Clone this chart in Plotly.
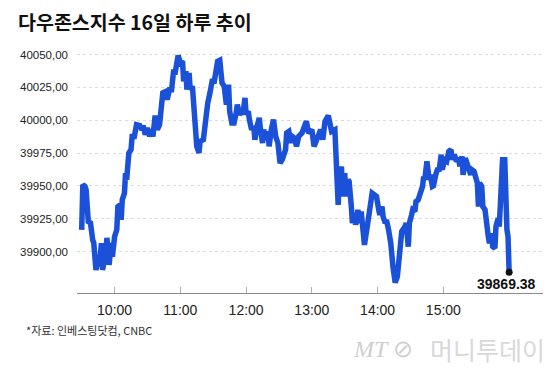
import plotly.graph_objects as go

# minutes after 09:30 (16 May session)
minutes = [0, 1, 3, 4, 6, 8, 10, 11, 13, 15, 16, 18, 19, 22, 23, 25, 27, 28, 30, 32,
           33, 35, 36, 37, 39, 40, 41, 43, 45, 46, 48, 50, 53, 55, 56, 58, 60, 62, 63, 65,
           67, 69, 71, 73, 74, 77, 78, 80, 82, 84, 85, 88, 90, 92, 93, 95, 96, 98, 99, 101,
           102, 104, 105, 107, 108, 111, 113, 115, 117, 119, 121, 123, 124, 126, 128, 130, 132, 134, 135, 137,
           139, 141, 142, 144, 146, 147, 149, 150, 152, 153, 155, 157, 158, 160, 162, 163, 165, 166, 168, 170,
           171, 173, 175, 177, 179, 181, 183, 186, 187, 189, 191, 192, 194, 196, 198, 201, 205, 207, 210, 212,
           215, 218, 220, 222, 225, 227, 228, 231, 232, 233, 234, 235, 237, 238, 240, 241, 243, 244, 246, 247,
           249, 250, 252, 254, 255, 256, 258, 261, 263, 265, 267, 269, 271, 272, 274, 275, 277, 278, 280, 282,
           284, 286, 288, 290, 291, 292, 295, 296, 298, 299, 301, 302, 304, 305, 307, 309, 311, 312, 313, 315,
           317, 318, 320, 321, 323, 325, 326, 328, 329, 331, 333, 335, 337, 338, 340, 342, 344, 345, 347, 348,
           350, 352, 353, 355, 356, 358, 359, 361, 362, 363, 365, 366, 368, 369, 371, 372, 374, 375, 377, 378,
           380, 381, 383, 384, 386, 387, 388, 389, 390]

dow = [39916.6, 39950.9, 39949.6, 39947.1, 39922.9, 39921.9, 39908.9, 39906.6, 39886.0, 39896.2,
       39888.6, 39906.4, 39886.0, 39899.0, 39910.5, 39889.9, 39906.6, 39896.2, 39911.4, 39916.6,
       39934.3, 39935.6, 39924.2, 39939.4, 39944.5, 39959.8, 39954.7, 39975.1, 39977.6, 39987.7,
       39987.7, 39996.6, 39995.9, 39992.8, 39995.9, 39989.0, 39994.1, 39987.7, 39992.8, 39987.7,
       40003.5, 39992.8, 39996.6, 40010.6, 40020.8, 40022.0, 40015.7, 40023.3, 40023.3, 40038.6,
       40034.8, 40049.3, 40043.7, 40044.9, 40029.7, 40037.3, 40023.3, 40036.1, 40023.3, 40025.9,
       40010.6, 39985.2, 39980.1, 39975.1, 39983.9, 39985.2, 40000.5, 40013.2, 40020.8, 40029.7,
       40029.7, 40037.3, 40044.9, 40045.7, 40028.5, 40025.9, 40011.9, 40027.2, 40006.8, 39997.9,
       39997.9, 40005.6, 40011.9, 40004.3, 40006.8, 40004.3, 40017.0, 40004.3, 40006.8, 40000.5,
       39992.8, 39995.4, 39985.2, 39995.4, 40001.8, 39994.1, 39982.7, 39992.8, 39985.2, 39991.5,
       39980.1, 39992.8, 40000.5, 39987.7, 39982.7, 39967.4, 39970.0, 39977.6, 39990.3, 39991.5,
       39982.7, 39987.7, 39986.5, 39980.1, 39987.7, 39990.3, 39999.2, 39990.3, 39992.8, 39980.1,
       39987.7, 39992.8, 39985.2, 39999.2, 40003.5, 39997.9, 39991.5, 39992.8, 39967.4, 39944.5,
       39935.6, 39954.7, 39964.8, 39942.0, 39959.8, 39942.0, 39954.7, 39953.4, 39934.3, 39921.7,
       39929.3, 39920.4, 39931.8, 39921.7, 39930.5, 39919.1, 39905.1, 39921.7, 39936.9, 39944.5,
       39943.3, 39942.0, 39931.8, 39928.0, 39934.3, 39926.7, 39921.7, 39924.2, 39916.6, 39906.4,
       39888.6, 39876.4, 39880.9, 39898.8, 39911.4, 39915.3, 39919.1, 39921.7, 39903.8, 39921.7,
       39928.0, 39931.8, 39930.5, 39938.1, 39939.4, 39944.5, 39949.6, 39957.2, 39954.7, 39968.7,
       39954.7, 39958.5, 39949.6, 39950.1, 39958.5, 39963.6, 39961.0, 39973.8, 39962.3, 39969.9,
       39968.7, 39976.3, 39977.6, 39969.9, 39973.8, 39968.7, 39971.2, 39964.8, 39972.5, 39958.5,
       39971.2, 39963.6, 39963.6, 39958.5, 39962.3, 39961.0, 39958.5, 39952.2, 39934.3, 39952.2,
       39949.6, 39934.3, 39931.8, 39921.7, 39911.4, 39906.4, 39914.0, 39903.8, 39902.6, 39919.1,
       39925.5, 39919.1, 39952.2, 39969.9, 39969.9, 39926.7, 39916.6, 39911.4, 39884.3]

last_close_label = "39869.38"

x_tick_minutes = [30, 90, 150, 210, 270, 330]
x_tick_labels = ["10:00", "11:00", "12:00", "13:00", "14:00", "15:00"]
y_ticks = [39900, 39925, 39950, 39975, 40000, 40025, 40050]

title_text = "다우존스지수 16일 하루 추이"
source_text = "*자료: 인베스팅닷컴, CNBC"

fig = go.Figure()
fig.add_trace(go.Scatter(
    x=minutes, y=dow, mode="lines",
    line=dict(color="#1a51d8", width=5.5),
    hoverinfo="skip", showlegend=False,
))
fig.add_trace(go.Scatter(
    x=[minutes[-1]], y=[dow[-1]], mode="markers",
    marker=dict(color="#111111", size=7),
    hoverinfo="skip", showlegend=False,
))

fig.add_annotation(
    x=minutes[-1], y=dow[-1], xref="x", yref="y",
    text="<b>" + last_close_label + "</b>", showarrow=False,
    xanchor="center", yanchor="middle", xshift=-3, yshift=-12,
    font=dict(family="Liberation Sans, Arial", size=14, color="#111111"),
)

# source note
fig.add_annotation(
    x=-0.1146, y=-0.151, xref="paper", yref="paper",
    text=source_text, showarrow=False, xanchor="left", yanchor="middle",
    font=dict(family="Noto Sans CJK KR", size=11, color="#333333"),
)
# watermark
fig.add_annotation(
    x=0.657, y=-0.229, xref="paper", yref="paper",
    text="<i>MT</i> ⊘", showarrow=False, xanchor="center", yanchor="middle",
    font=dict(family="Liberation Serif", size=24, color="#cfcfcf"),
)
fig.add_annotation(
    x=1.0085, y=-0.229, xref="paper", yref="paper",
    text="머니투데이", showarrow=False, xanchor="right", yanchor="middle",
    font=dict(family="Noto Sans CJK KR", size=25, color="#d8d8d8"),
)

# page body adds an 8px offset; layout positions compensate for it
fig.update_layout(
    width=560, height=374,
    margin=dict(l=64, r=25, t=40.4, b=89),
    paper_bgcolor="white", plot_bgcolor="white",
    separators=",.",
    title=dict(
        text="<b>" + title_text + "</b>",
        x=10 / 560, xanchor="left", xref="container",
        y=1 - 15.5 / 374, yanchor="middle", yref="container",
        font=dict(family="Noto Sans CJK KR", size=19.5, color="#111111"),
    ),
    xaxis=dict(
        range=[-4.3, 420.9],
        tickvals=x_tick_minutes, ticktext=x_tick_labels,
        showgrid=False, zeroline=False,
        showline=True, linecolor="#8a8a8a", linewidth=1,
        ticks="inside", ticklen=6, tickcolor="#b0b0b0", tickwidth=1,
        tickfont=dict(family="Liberation Sans, Arial", size=14, color="#222222"),
        ticklabelstandoff=4,
    ),
    yaxis=dict(
        range=[39868.5, 40055],
        tickvals=y_ticks, tickformat=".2f",
        showgrid=True, gridcolor="#dcdcdc", gridwidth=1, griddash="dot",
        zeroline=False, showline=False, ticks="",
        tickfont=dict(family="Liberation Sans, Arial", size=11.5, color="#222222"),
        ticklabelstandoff=8,
    ),
)

fig.write_html("out.html")
